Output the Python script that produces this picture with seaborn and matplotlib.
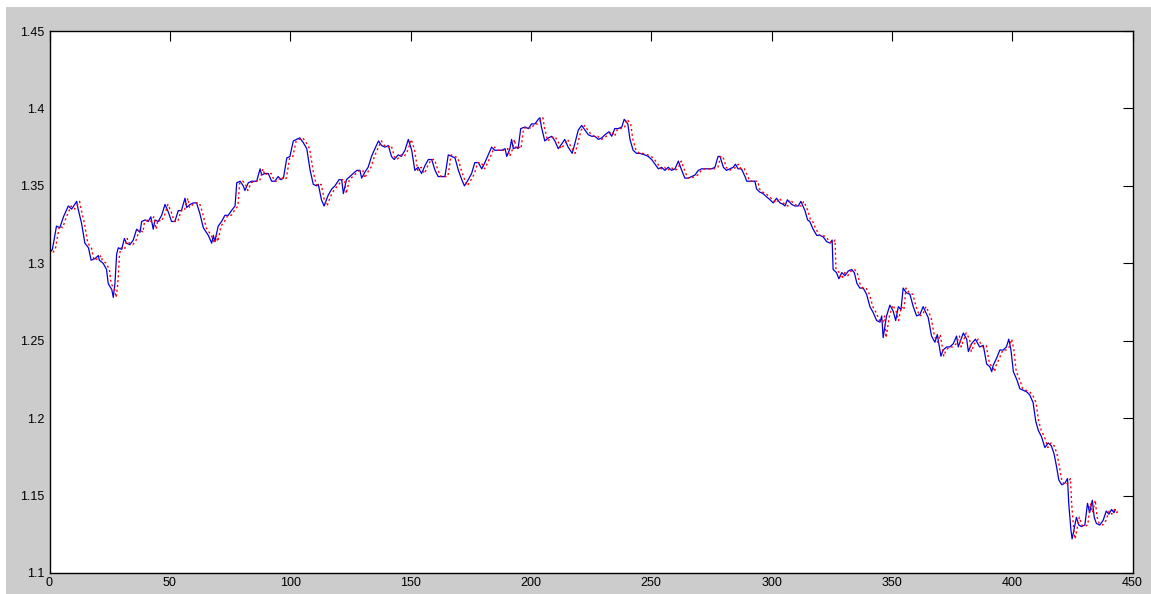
import numpy as np
import pandas as pd
import matplotlib
matplotlib.use("Agg")
import matplotlib.pyplot as plt
import seaborn as sns
from matplotlib.patches import Rectangle

t = [0.2, 1.2, 2.9, 4.3, 5.8, 7.8, 9.2, 11.3, 11.9, 13.3, 14.7, 16.2, 17.3, 18.9, 20.3,
     20.7, 22.3, 23.7, 24.4, 25.1, 25.9, 26.5, 27.2, 27.9, 28.6, 30.0, 31.1, 32.0, 33.4,
     34.8, 36.2, 37.6, 38.3, 39.7, 41.0, 42.1, 43.1, 43.8, 45.2, 46.6, 48.0, 49.4, 50.7,
     52.1, 53.5, 54.8, 56.3, 57.0, 58.4, 59.8, 61.1, 62.5, 63.9, 66.0, 67.4, 68.1, 68.7,
     70.1, 71.5, 72.9, 74.3, 75.6, 77.1, 77.8, 79.2, 80.5, 81.2, 82.6, 84.0, 86.1, 87.5,
     88.2, 89.5, 90.9, 92.3, 93.6, 95.0, 96.2, 97.2, 98.6, 99.9, 101.3, 102.7, 104.0,
     105.4, 106.9, 108.3, 109.6, 111.0, 111.7, 113.0, 114.1, 115.8, 117.3, 118.6, 120.3,
     121.4, 122.1, 123.4, 124.8, 126.2, 127.7, 129.0, 129.7, 131.1, 132.4, 133.8, 135.2,
     136.7, 138.0, 139.4, 140.8, 142.1, 143.2, 144.9, 146.2, 147.7, 149.1, 150.5, 151.8,
     153.2, 154.6, 156.0, 157.4, 158.8, 160.2, 161.5, 162.9, 164.3, 165.7, 167.2, 168.5,
     169.9, 171.3, 172.4, 174.0, 175.4, 176.7, 178.2, 179.6, 180.9, 182.3, 183.7, 185.0,
     186.4, 187.9, 189.3, 190.0, 191.3, 192.0, 192.7, 194.1, 194.7, 195.8, 197.6, 199.0,
     200.3, 201.7, 203.1, 203.8, 204.4, 205.8, 207.3, 208.7, 210.0, 211.4, 212.8, 214.1,
     215.5, 217.2, 218.4, 219.7, 221.1, 222.5, 223.9, 225.3, 226.6, 228.1, 229.5, 230.8,
     232.5, 233.6, 234.9, 236.3, 237.8, 238.8, 240.3, 241.2, 242.5, 243.9, 245.3, 247.4,
     248.8, 250.2, 251.6, 253.0, 254.3, 255.7, 257.1, 258.5, 259.9, 261.3, 262.7, 264.0,
     265.4, 266.8, 268.2, 269.6, 271.0, 272.4, 273.7, 275.1, 276.5, 277.8, 278.6, 280.0,
     281.3, 282.7, 284.1, 285.0, 286.1, 287.5, 289.0, 289.7, 291.7, 293.1, 293.8, 295.1,
     296.5, 297.9, 299.4, 300.7, 302.1, 303.5, 304.9, 305.6, 306.6, 308.4, 309.8, 311.1,
     312.2, 313.9, 315.0, 315.9, 317.3, 318.8, 320.2, 321.5, 322.9, 324.3, 325.2, 325.6,
     327.0, 328.0, 329.2, 330.5, 331.9, 333.3, 334.4, 335.5, 336.7, 338.1, 339.5, 340.9,
     342.3, 343.7, 345.1, 345.8, 346.4, 347.8, 349.2, 350.6, 351.6, 352.7, 353.8, 354.7,
     356.0, 357.5, 358.9, 360.3, 361.7, 363.0, 365.1, 366.5, 367.9, 368.9, 370.4, 371.3,
     372.8, 374.1, 375.5, 376.9, 377.6, 379.7, 381.1, 381.8, 383.1, 384.7, 386.5, 388.0,
     389.4, 390.8, 391.5, 392.1, 393.6, 394.9, 396.3, 397.6, 398.6, 399.5, 400.5, 401.9,
     403.2, 404.6, 406.0, 407.3, 408.7, 409.8, 410.9, 412.2, 413.6, 415.0, 416.3, 417.4,
     418.4, 419.4, 420.6, 421.9, 423.0, 423.5, 424.4, 424.9, 425.7, 426.7, 427.7, 428.8,
     430.2, 431.3, 432.2, 433.3, 434.1, 435.0, 436.4, 437.8, 439.1, 440.2, 441.3, 442.3,
     442.9]

actual = [1.307, 1.309, 1.324, 1.323, 1.330, 1.337, 1.335, 1.340, 1.335, 1.326, 1.313, 1.310,
          1.302, 1.303, 1.305, 1.302, 1.300, 1.296, 1.287, 1.285, 1.283, 1.278, 1.287, 1.306,
          1.310, 1.309, 1.316, 1.313, 1.312, 1.315, 1.322, 1.320, 1.327, 1.328, 1.327, 1.330,
          1.322, 1.328, 1.327, 1.331, 1.338, 1.333, 1.327, 1.327, 1.334, 1.334, 1.342, 1.336,
          1.338, 1.339, 1.339, 1.332, 1.323, 1.318, 1.313, 1.318, 1.314, 1.324, 1.327, 1.331,
          1.331, 1.334, 1.337, 1.352, 1.353, 1.350, 1.347, 1.352, 1.353, 1.353, 1.361, 1.357,
          1.358, 1.358, 1.353, 1.353, 1.356, 1.354, 1.355, 1.368, 1.369, 1.379, 1.380, 1.381,
          1.378, 1.374, 1.360, 1.351, 1.350, 1.351, 1.341, 1.337, 1.344, 1.348, 1.350, 1.354,
          1.354, 1.345, 1.354, 1.356, 1.358, 1.360, 1.360, 1.355, 1.359, 1.362, 1.369, 1.374,
          1.379, 1.376, 1.375, 1.376, 1.369, 1.367, 1.370, 1.369, 1.373, 1.380, 1.373, 1.360,
          1.362, 1.358, 1.363, 1.367, 1.367, 1.360, 1.356, 1.356, 1.356, 1.370, 1.369, 1.368,
          1.360, 1.354, 1.350, 1.354, 1.358, 1.365, 1.365, 1.361, 1.365, 1.370, 1.375, 1.373,
          1.373, 1.373, 1.374, 1.369, 1.374, 1.380, 1.374, 1.375, 1.374, 1.387, 1.388, 1.387,
          1.390, 1.390, 1.393, 1.394, 1.388, 1.379, 1.381, 1.382, 1.379, 1.374, 1.377, 1.380,
          1.375, 1.371, 1.378, 1.386, 1.389, 1.386, 1.383, 1.382, 1.382, 1.380, 1.381, 1.383,
          1.385, 1.382, 1.387, 1.387, 1.388, 1.393, 1.390, 1.380, 1.373, 1.371, 1.371, 1.370,
          1.369, 1.367, 1.364, 1.361, 1.362, 1.360, 1.362, 1.360, 1.361, 1.366, 1.360, 1.355,
          1.355, 1.356, 1.357, 1.360, 1.361, 1.361, 1.361, 1.361, 1.362, 1.369, 1.369, 1.362,
          1.360, 1.361, 1.362, 1.364, 1.361, 1.361, 1.356, 1.353, 1.353, 1.353, 1.348, 1.346,
          1.345, 1.343, 1.341, 1.339, 1.342, 1.339, 1.338, 1.337, 1.341, 1.338, 1.337, 1.337,
          1.340, 1.334, 1.328, 1.327, 1.322, 1.318, 1.318, 1.317, 1.314, 1.313, 1.315, 1.296,
          1.294, 1.290, 1.294, 1.292, 1.295, 1.296, 1.294, 1.287, 1.284, 1.284, 1.280, 1.272,
          1.268, 1.263, 1.262, 1.266, 1.252, 1.266, 1.273, 1.269, 1.263, 1.272, 1.270, 1.284,
          1.281, 1.280, 1.272, 1.266, 1.267, 1.272, 1.265, 1.253, 1.249, 1.254, 1.240, 1.244,
          1.246, 1.246, 1.248, 1.253, 1.246, 1.255, 1.251, 1.243, 1.248, 1.251, 1.246, 1.247,
          1.235, 1.233, 1.230, 1.234, 1.239, 1.244, 1.244, 1.246, 1.251, 1.244, 1.230, 1.225,
          1.219, 1.218, 1.217, 1.215, 1.210, 1.198, 1.192, 1.188, 1.181, 1.184, 1.182, 1.177,
          1.169, 1.160, 1.157, 1.158, 1.161, 1.145, 1.128, 1.122, 1.128, 1.136, 1.131, 1.130,
          1.131, 1.145, 1.139, 1.147, 1.136, 1.132, 1.131, 1.134, 1.140, 1.138, 1.141, 1.139,
          1.141]

# the red dotted curve is the one-step-ahead forecast: same values, lagged
forecast_lag = 1.2

x_ticks = [0, 50, 100, 150, 200, 250, 300, 350, 400, 450]
y_ticks = [1.1, 1.15, 1.2, 1.25, 1.3, 1.35, 1.4, 1.45]
y_tick_labels = ["1.1", "1.15", "1.2", "1.25", "1.3", "1.35", "1.4", "1.45"]

df = pd.DataFrame({"t": t, "actual": actual})
df["t_forecast"] = df["t"] + forecast_lag

sns.set_theme(style="white")
plt.rcParams["font.family"] = ["Liberation Sans", "DejaVu Sans"]

fig = plt.figure(figsize=(11.51, 5.94), dpi=100, facecolor="white")
# MATLAB-like grey figure panel, kept behind the axes
fig.add_artist(Rectangle((6 / 1151, 0), 1, 587 / 594, transform=fig.transFigure,
                         facecolor="#cccccc", edgecolor="none", zorder=-10))
ax = fig.add_axes([49.5 / 1151, 21 / 594, 1083 / 1151, 542 / 594])
ax.set_zorder(5)
ax.set_facecolor("white")

sns.lineplot(data=df, x="t", y="actual", ax=ax, color="#0000e0", lw=0.9,
             estimator=None, sort=False)
sns.lineplot(data=df, x="t_forecast", y="actual", ax=ax, color="#ff0000", lw=1.0,
             linestyle=(0, (1.5, 2.0)), estimator=None, sort=False)

ax.set_xlim(0, 450)
ax.set_ylim(1.1, 1.45)
ax.set_xticks(x_ticks)
ax.set_yticks(y_ticks)
ax.set_yticklabels(y_tick_labels)
ax.set_xlabel("")
ax.set_ylabel("")
ax.tick_params(direction="in", length=7.5, width=0.8, color="black",
               top=True, right=True, labelsize=9, labelcolor="black")
ax.tick_params(axis="x", pad=3)
ax.tick_params(axis="y", pad=4)
for side in ["top", "bottom", "left", "right"]:
    ax.spines[side].set_visible(True)
    ax.spines[side].set_color("black")
    ax.spines[side].set_linewidth(1.0)

fig.savefig("out.png", dpi=100, facecolor=fig.get_facecolor())
